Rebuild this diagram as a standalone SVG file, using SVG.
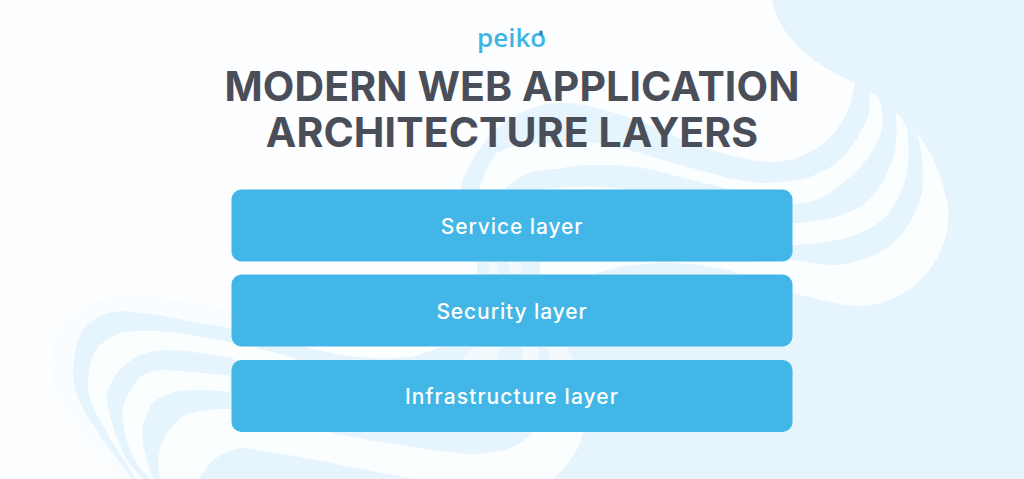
<svg xmlns="http://www.w3.org/2000/svg" width="1024" height="479" viewBox="0 0 1024 479">
<style>
.bg{fill:#fdfeff}.h{fill:#fafdff}.l{fill:#e5f4fd}.w{fill:#fbfeff}.s{fill:#f3fafe}
.box{fill:#42b6e6}
.t{font-family:"Inter","Liberation Sans",sans-serif;font-weight:700;font-size:41px;fill:#4a4e59;text-anchor:middle;letter-spacing:.1px}
.b{font-family:"Inter","Liberation Sans",sans-serif;font-weight:500;font-size:21px;fill:#fff;text-anchor:middle;letter-spacing:.9px}
</style>
<rect class="bg" width="1024" height="479"/>
<g id="background">
<path class="h" d="M120 479C85 430 50 400 50 365C50 325 85 295 135 295C175 297 205 305 240 312V479Z"/>
<path class="l" d="M772 0H1024V479H553L583 432L600 360H477V262C465 240 455 215 460 190C465 165 490 130 513 117C530 107 548 103 563 103C590 103 620 115 645 123C670 133 690 145 712 150C735 157 755 162 772 162C805 162 838 140 850 105L855 83C815 65 780 40 772 0Z"/>
<path class="w" d="M869 92C878 95 883 102 883 120C882 132 878 142 873 150C866 162 858 170 850 177C840 186 832 192 823 197C812 202 802 204 793 204L679 177C650 168 622 164 595 165C580 165 570 166 563 168C550 170 538 170 530 173C518 177 510 183 503 192H478C484 175 490 160 497 153C510 146 530 143 547 143C565 142 582 141 597 143C620 147 642 153 663 160C685 166 708 173 730 178C740 180 750 182 760 183C778 183 795 181 810 177C823 172 834 166 843 157C850 150 855 142 860 133C864 126 866 122 868 117C870 108 870 100 869 92Z"/>
<path class="w" d="M895 112C903 117 908 128 908 137C911 165 905 190 893 207C880 228 850 243 793 245L640 230L535 192C545 188 570 186 603 187C620 188 635 190 650 195L793 223C820 222 842 217 860 207C875 196 882 185 887 173C893 160 896 150 896 143C897 132 897 122 895 112Z"/>
<path class="w" d="M916 132C930 148 942 175 948 205C952 240 935 275 900 295C880 306 860 308 840 304C820 300 805 296 793 293L540 300V262H740L793 260C810 263 825 265 840 265C860 262 880 255 893 243C905 232 913 220 917 207C921 197 923 190 923 183C924 165 922 148 916 132Z"/>
<path class="l" d="M595 274C620 265 645 263 668 263C695 263 720 267 740 274Z"/>
<path class="s" d="M488 262H497L499 274H490ZM508 262H520L522 274H510Z"/>
<path class="l" d="M132 479C118 458 105 445 97 430C82 410 73 392 73 373C74 355 76 342 83 330C90 322 98 316 107 313C116 311 125 311 133 312C148 313 160 315 173 318C192 322 212 325 230 328C255 333 280 340 306 347C328 353 350 357 370 358C385 359 400 358 410 357C420 355 432 351 440 347H600V360L583 432L553 479Z"/>
<path class="w" d="M136 479C120 452 88 410 88 387C88 370 90 358 98 347C105 340 114 335 123 332C132 331 141 331 150 331C164 331 177 333 190 335C204 337 217 340 230 342C255 347 278 353 300 360V380L230 358C220 356 210 355 200 353C189 351 178 350 167 350C157 350 148 352 140 355C130 360 123 366 117 373C111 381 108 389 107 397C107 406 109 414 112 423C115 434 120 446 125 457C130 465 136 472 143 479Z"/>
<path class="w" d="M150 479C143 472 137 465 133 457C128 445 124 433 123 420C122 412 123 406 125 400C129 391 134 383 140 377C147 372 155 370 163 370C172 370 181 371 190 372C204 373 217 374 230 376V392C221 391 212 390 203 390C193 390 183 390 173 392C165 395 158 398 153 403C147 411 144 420 142 430C142 440 144 450 147 460C149 467 151 473 153 479Z"/>
<path class="w" d="M160 479C159 473 158 468 158 463C158 455 160 447 163 440C168 431 174 424 180 418C188 413 197 411 207 410C214 409 222 409 230 409L300 425L333 433C355 438 378 442 400 445C422 449 445 452 467 454C482 454 497 452 510 448C520 444 527 438 533 432H583C580 450 568 465 553 479Z"/>
<path class="l" d="M199 479C203 472 208 466 213 460C221 454 230 450 240 448C243 448 245 448 247 448C265 451 282 454 300 457C322 461 345 466 367 470C382 473 398 476 413 479Z"/>
<path class="s" d="M473 347H500L497 360H463ZM522 347H538V360H522ZM548 347H567L573 360H550Z"/>
</g>
<g id="logo">
<text x="477" y="47" font-family="'Open Sans','Liberation Sans',sans-serif" font-size="26" font-weight="600" fill="#3fb5e5">peiko</text>
<ellipse cx="541" cy="33" rx="1.800" ry="2.800" fill="#2b86b8"/>
</g>
<g id="title">
<text class="t" x="512" y="101">MODERN WEB APPLICATION</text>
<text class="t" x="512" y="147">ARCHITECTURE LAYERS</text>
</g>
<g id="service-layer"><rect class="box" x="231.5" y="189.500" width="561" height="72" rx="10"/><text class="b" x="512" y="233.500">Service layer</text></g>
<g id="security-layer"><rect class="box" x="231.5" y="274.500" width="561" height="72" rx="10"/><text class="b" x="512" y="318.500">Security layer</text></g>
<g id="infrastructure-layer"><rect class="box" x="231.5" y="360" width="561" height="72" rx="10"/><text class="b" x="512" y="403.500" style="letter-spacing:1.100px">Infrastructure layer</text></g>
<g id="connectors"/>
</svg>
